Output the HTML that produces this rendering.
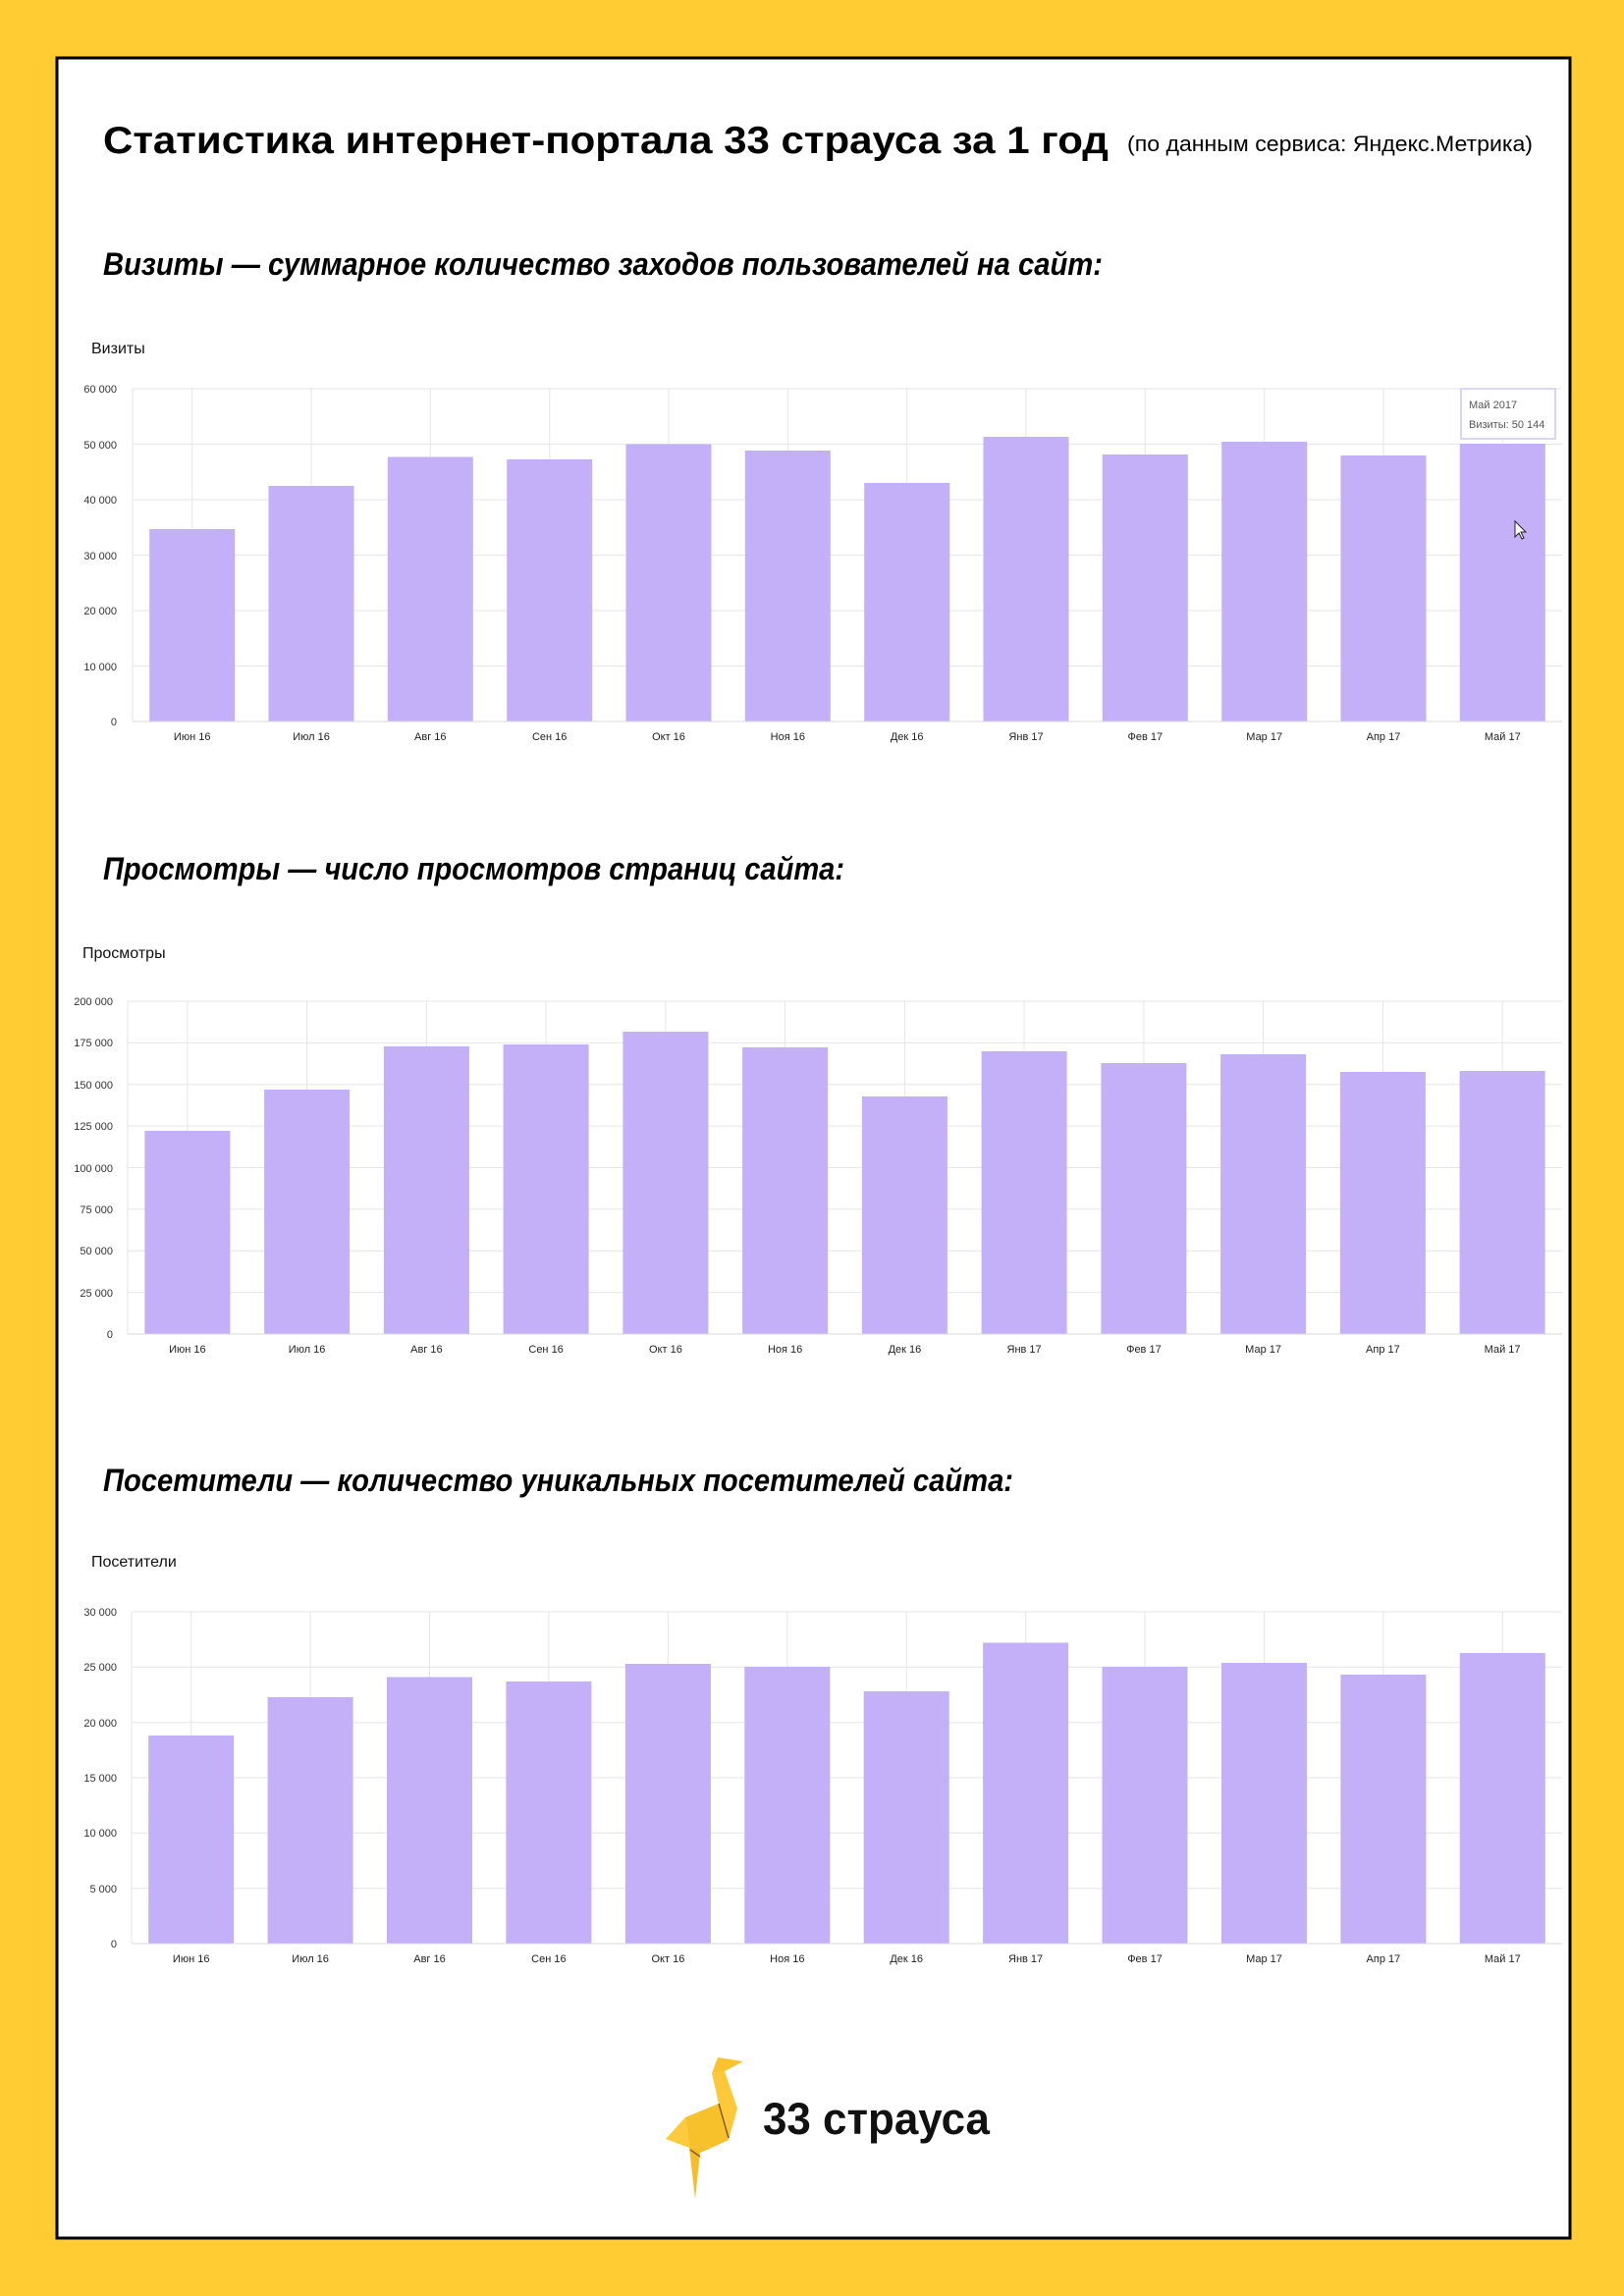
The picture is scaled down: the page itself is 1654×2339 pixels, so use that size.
<!DOCTYPE html>
<html><head><meta charset="utf-8"><style>
html,body{margin:0;padding:0;background:#ffcc33}
svg{display:block}
.yl{font:11px "Liberation Sans",Arial,sans-serif;fill:#333;text-anchor:end}
.xl{font:11px "Liberation Sans",Arial,sans-serif;fill:#222;text-anchor:middle}
.al{font:16px "Liberation Sans",Arial,sans-serif;fill:#111}
.h2{font:italic bold 32px "Liberation Sans",Arial,sans-serif;fill:#000}
.g{stroke:#e6e6e6;stroke-width:1}
.b{fill:#c4b0f8}
</style></head><body>
<svg width="1654" height="2339" viewBox="0 0 1654 2339" xmlns="http://www.w3.org/2000/svg">
<rect x="0" y="0" width="1654" height="2339" fill="#ffcc33"/>
<rect x="58" y="59" width="1541" height="2221" fill="#fff" stroke="#000" stroke-width="3"/>

<text x="105" y="156" font-family="Liberation Sans, Arial, sans-serif" font-weight="bold" font-size="39" textLength="1024" lengthAdjust="spacingAndGlyphs">Статистика интернет-портала 33 страуса за 1 год</text>
<text x="1148" y="154" font-family="Liberation Sans, Arial, sans-serif" font-size="22" textLength="413" lengthAdjust="spacingAndGlyphs">(по данным сервиса: Яндекс.Метрика)</text>

<!-- Chart 1 -->
<text class="h2" x="105" y="280" textLength="1018" lengthAdjust="spacingAndGlyphs">Визиты — суммарное количество заходов пользователей на сайт:</text>
<text class="al" x="93" y="360">Визиты</text>
<g class="g">
<line x1="135" x2="1591" y1="396" y2="396"/><line x1="135" x2="1591" y1="452.5" y2="452.5"/><line x1="135" x2="1591" y1="509" y2="509"/><line x1="135" x2="1591" y1="565.5" y2="565.5"/><line x1="135" x2="1591" y1="622" y2="622"/><line x1="135" x2="1591" y1="678.5" y2="678.5"/>
<line x1="195.7" x2="195.7" y1="396" y2="735"/><line x1="317" x2="317" y1="396" y2="735"/><line x1="438.3" x2="438.3" y1="396" y2="735"/><line x1="559.7" x2="559.7" y1="396" y2="735"/><line x1="681" x2="681" y1="396" y2="735"/><line x1="802.3" x2="802.3" y1="396" y2="735"/><line x1="923.7" x2="923.7" y1="396" y2="735"/><line x1="1045" x2="1045" y1="396" y2="735"/><line x1="1166.3" x2="1166.3" y1="396" y2="735"/><line x1="1287.7" x2="1287.7" y1="396" y2="735"/><line x1="1409" x2="1409" y1="396" y2="735"/><line x1="1530.3" x2="1530.3" y1="396" y2="735"/>
<line x1="135" x2="135" y1="396" y2="735"/>
</g>
<g class="b">
<rect x="152.2" y="539" width="87" height="196"/><rect x="273.5" y="495" width="87" height="240"/><rect x="394.8" y="465.5" width="87" height="269.5"/><rect x="516.2" y="468" width="87" height="267"/><rect x="637.5" y="452.5" width="87" height="282.5"/><rect x="758.8" y="459" width="87" height="276"/><rect x="880.2" y="492" width="87" height="243"/><rect x="1001.5" y="445" width="87" height="290"/><rect x="1122.8" y="463" width="87" height="272"/><rect x="1244.2" y="450" width="87" height="285"/><rect x="1365.5" y="464" width="87" height="271"/><rect x="1486.8" y="452" width="87" height="283"/>
</g>
<line x1="135" x2="1591" y1="735" y2="735" stroke="#d8d8d8"/>
<g class="yl">
<text x="119" y="400">60 000</text><text x="119" y="457">50 000</text><text x="119" y="513">40 000</text><text x="119" y="570">30 000</text><text x="119" y="626">20 000</text><text x="119" y="683">10 000</text><text x="119" y="739">0</text>
</g>
<g class="xl">
<text x="195.7" y="754">Июн 16</text><text x="317" y="754">Июл 16</text><text x="438.3" y="754">Авг 16</text><text x="559.7" y="754">Сен 16</text><text x="681" y="754">Окт 16</text><text x="802.3" y="754">Ноя 16</text><text x="923.7" y="754">Дек 16</text><text x="1045" y="754">Янв 17</text><text x="1166.3" y="754">Фев 17</text><text x="1287.7" y="754">Мар 17</text><text x="1409" y="754">Апр 17</text><text x="1530.3" y="754">Май 17</text>
</g>
<rect x="1488" y="396" width="96" height="51" fill="#fff" stroke="#dcd3fb" stroke-width="2"/>
<text x="1496" y="416" font-family="Liberation Sans, Arial, sans-serif" font-size="11" fill="#555">Май 2017</text>
<text x="1496" y="436" font-family="Liberation Sans, Arial, sans-serif" font-size="11" fill="#555">Визиты: 50 144</text>
<path d="M1543 531 l0 16 l4 -4 l3 6 l2 -1 l-3 -6 l5 0 z" fill="#fff" stroke="#222" stroke-width="1"/>

<!-- Chart 2 -->
<text class="h2" x="105" y="896" textLength="755" lengthAdjust="spacingAndGlyphs">Просмотры — число просмотров страниц сайта:</text>
<text class="al" x="84" y="976">Просмотры</text>
<g class="g">
<line x1="130" x2="1591" y1="1020" y2="1020"/><line x1="130" x2="1591" y1="1062.4" y2="1062.4"/><line x1="130" x2="1591" y1="1104.8" y2="1104.8"/><line x1="130" x2="1591" y1="1147.1" y2="1147.1"/><line x1="130" x2="1591" y1="1189.5" y2="1189.5"/><line x1="130" x2="1591" y1="1231.9" y2="1231.9"/><line x1="130" x2="1591" y1="1274.3" y2="1274.3"/><line x1="130" x2="1591" y1="1316.6" y2="1316.6"/>
<line x1="190.9" x2="190.9" y1="1020" y2="1359"/><line x1="312.6" x2="312.6" y1="1020" y2="1359"/><line x1="434.4" x2="434.4" y1="1020" y2="1359"/><line x1="556.1" x2="556.1" y1="1020" y2="1359"/><line x1="677.9" x2="677.9" y1="1020" y2="1359"/><line x1="799.6" x2="799.6" y1="1020" y2="1359"/><line x1="921.4" x2="921.4" y1="1020" y2="1359"/><line x1="1043.1" x2="1043.1" y1="1020" y2="1359"/><line x1="1164.9" x2="1164.9" y1="1020" y2="1359"/><line x1="1286.6" x2="1286.6" y1="1020" y2="1359"/><line x1="1408.4" x2="1408.4" y1="1020" y2="1359"/><line x1="1530.1" x2="1530.1" y1="1020" y2="1359"/>
<line x1="130" x2="130" y1="1020" y2="1359"/>
</g>
<g class="b">
<rect x="147.4" y="1152" width="87" height="207"/><rect x="269.1" y="1110" width="87" height="249"/><rect x="390.9" y="1066" width="87" height="293"/><rect x="512.6" y="1064" width="87" height="295"/><rect x="634.4" y="1051" width="87" height="308"/><rect x="756.1" y="1067" width="87" height="292"/><rect x="877.9" y="1117" width="87" height="242"/><rect x="999.6" y="1071" width="87" height="288"/><rect x="1121.4" y="1083" width="87" height="276"/><rect x="1243.1" y="1074" width="87" height="285"/><rect x="1364.9" y="1092" width="87" height="267"/><rect x="1486.6" y="1091" width="87" height="268"/>
</g>
<line x1="130" x2="1591" y1="1359" y2="1359" stroke="#d8d8d8"/>
<g class="yl">
<text x="115" y="1024">200 000</text><text x="115" y="1066">175 000</text><text x="115" y="1109">150 000</text><text x="115" y="1151">125 000</text><text x="115" y="1194">100 000</text><text x="115" y="1236">75 000</text><text x="115" y="1278">50 000</text><text x="115" y="1321">25 000</text><text x="115" y="1363">0</text>
</g>
<g class="xl">
<text x="190.9" y="1378">Июн 16</text><text x="312.6" y="1378">Июл 16</text><text x="434.4" y="1378">Авг 16</text><text x="556.1" y="1378">Сен 16</text><text x="677.9" y="1378">Окт 16</text><text x="799.6" y="1378">Ноя 16</text><text x="921.4" y="1378">Дек 16</text><text x="1043.1" y="1378">Янв 17</text><text x="1164.9" y="1378">Фев 17</text><text x="1286.6" y="1378">Мар 17</text><text x="1408.4" y="1378">Апр 17</text><text x="1530.1" y="1378">Май 17</text>
</g>

<!-- Chart 3 -->
<text class="h2" x="105" y="1519" textLength="927" lengthAdjust="spacingAndGlyphs">Посетители — количество уникальных посетителей сайта:</text>
<text class="al" x="93" y="1596">Посетители</text>
<g class="g">
<line x1="134" x2="1591" y1="1642" y2="1642"/><line x1="134" x2="1591" y1="1698.3" y2="1698.3"/><line x1="134" x2="1591" y1="1754.7" y2="1754.7"/><line x1="134" x2="1591" y1="1811" y2="1811"/><line x1="134" x2="1591" y1="1867.3" y2="1867.3"/><line x1="134" x2="1591" y1="1923.7" y2="1923.7"/>
<line x1="194.7" x2="194.7" y1="1642" y2="1980"/><line x1="316.1" x2="316.1" y1="1642" y2="1980"/><line x1="437.5" x2="437.5" y1="1642" y2="1980"/><line x1="558.9" x2="558.9" y1="1642" y2="1980"/><line x1="680.4" x2="680.4" y1="1642" y2="1980"/><line x1="801.8" x2="801.8" y1="1642" y2="1980"/><line x1="923.2" x2="923.2" y1="1642" y2="1980"/><line x1="1044.6" x2="1044.6" y1="1642" y2="1980"/><line x1="1166" x2="1166" y1="1642" y2="1980"/><line x1="1287.5" x2="1287.5" y1="1642" y2="1980"/><line x1="1408.9" x2="1408.9" y1="1642" y2="1980"/><line x1="1530.3" x2="1530.3" y1="1642" y2="1980"/>
<line x1="134" x2="134" y1="1642" y2="1980"/>
</g>
<g class="b">
<rect x="151.2" y="1768" width="87" height="212"/><rect x="272.6" y="1729" width="87" height="251"/><rect x="394" y="1708.5" width="87" height="271.5"/><rect x="515.4" y="1713" width="87" height="267"/><rect x="636.9" y="1695" width="87" height="285"/><rect x="758.3" y="1698" width="87" height="282"/><rect x="879.7" y="1723" width="87" height="257"/><rect x="1001.1" y="1673.5" width="87" height="306.5"/><rect x="1122.5" y="1698" width="87" height="282"/><rect x="1244" y="1694" width="87" height="286"/><rect x="1365.4" y="1706" width="87" height="274"/><rect x="1486.8" y="1684" width="87" height="296"/>
</g>
<line x1="134" x2="1591" y1="1980" y2="1980" stroke="#d8d8d8"/>
<g class="yl">
<text x="119" y="1646">30 000</text><text x="119" y="1702">25 000</text><text x="119" y="1759">20 000</text><text x="119" y="1815">15 000</text><text x="119" y="1871">10 000</text><text x="119" y="1928">5 000</text><text x="119" y="1984">0</text>
</g>
<g class="xl">
<text x="194.7" y="1999">Июн 16</text><text x="316.1" y="1999">Июл 16</text><text x="437.5" y="1999">Авг 16</text><text x="558.9" y="1999">Сен 16</text><text x="680.4" y="1999">Окт 16</text><text x="801.8" y="1999">Ноя 16</text><text x="923.2" y="1999">Дек 16</text><text x="1044.6" y="1999">Янв 17</text><text x="1166" y="1999">Фев 17</text><text x="1287.5" y="1999">Мар 17</text><text x="1408.9" y="1999">Апр 17</text><text x="1530.3" y="1999">Май 17</text>
</g>

<!-- Logo -->
<polygon points="731,2096 757,2100 738,2110 725,2112" fill="#f9c22e"/>
<polygon points="725,2112 738,2110 751,2148 742,2180 732,2143" fill="#fdc93a"/>
<polygon points="732,2143 742,2180 727,2187 702,2188 698,2157" fill="#f7c12c"/>
<polygon points="698,2157 702,2188 678,2179" fill="#fccb3d"/>
<polygon points="702,2188 727,2187 713,2193 708,2240" fill="#f5bd27"/>
<line x1="732" y1="2143" x2="742" y2="2178" stroke="#8a5a2a" stroke-width="1.5"/>
<line x1="703" y1="2190" x2="713" y2="2197" stroke="#8a5a2a" stroke-width="1.5"/>
<text x="777" y="2174" font-family="Liberation Sans, Arial, sans-serif" font-weight="bold" font-size="45" textLength="231" lengthAdjust="spacingAndGlyphs" fill="#111">33 страуса</text>
</svg>
</body></html>
